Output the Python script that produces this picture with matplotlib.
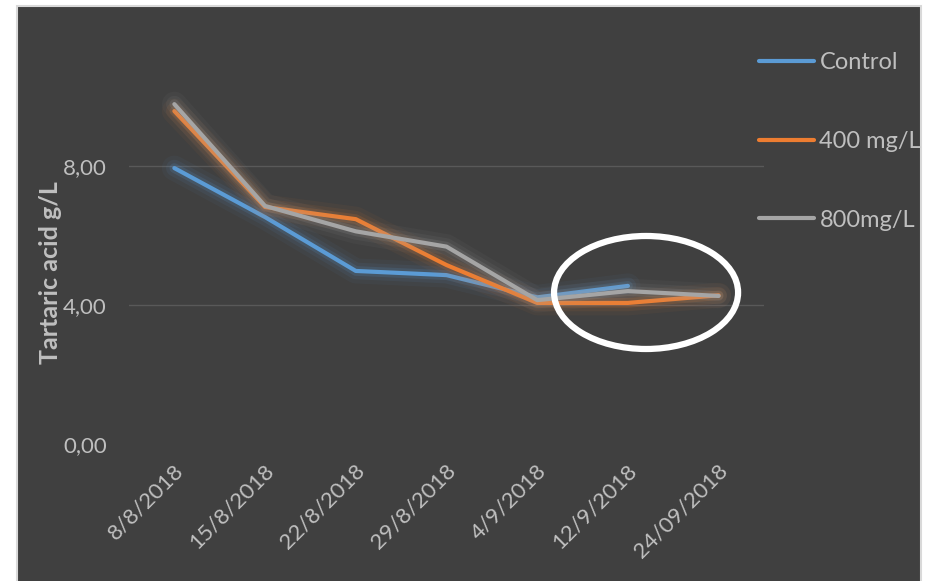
import matplotlib.pyplot as plt
import matplotlib.patheffects as pe
import matplotlib.transforms as mtransforms
from matplotlib.patches import Ellipse, Rectangle

dates = ["8/8/2018", "15/8/2018", "22/8/2018", "29/8/2018", "4/9/2018", "12/9/2018", "24/09/2018"]
control = [7.94, 6.53, 4.98, 4.86, 4.22, 4.55]  # no value for 24/09
mg400 = [9.58, 6.82, 6.47, 5.15, 4.06, 4.06, 4.28]
mg800 = [9.78, 6.85, 6.12, 5.68, 4.14, 4.40, 4.26]

bg = "#404040"
txt = "#bfbfbf"

plt.rcParams["font.family"] = ["Lato", "DejaVu Sans"]

fig = plt.figure(figsize=(9.28, 5.81), dpi=100, facecolor="white")
# dark chart area with a thin light border, white margins like the screenshot
fig.patches.append(Rectangle((17 / 928, -0.01), 904 / 928, 1 - 6 / 581 + 0.01,
                             transform=fig.transFigure, facecolor=bg,
                             edgecolor="#d9d9d9", linewidth=1.5, zorder=-10))

ax = fig.add_axes([129 / 928, 1 - 444 / 581, 635 / 928, 417 / 581])
ax.set_facecolor("none")
ax.set_zorder(5)

x = list(range(len(dates)))
series = [("Control", control, "#5b9bd5"),
          ("400 mg/L", mg400, "#ed7d31"),
          ("800mg/L", mg800, "#a5a5a5")]
for name, vals, col in series:
    # soft glow around each line, as in the original chart
    glow = [pe.Stroke(linewidth=18, foreground=col, alpha=0.05),
            pe.Stroke(linewidth=12, foreground=col, alpha=0.08),
            pe.Stroke(linewidth=7, foreground=col, alpha=0.15),
            pe.Normal()]
    ax.plot(x[:len(vals)], vals, color=col, linewidth=3, label=name,
            solid_capstyle="round", path_effects=glow)

ax.set_xlim(-0.5, 6.5)
ax.set_ylim(0, 12)
ax.set_yticks([0, 4, 8])
ax.set_yticklabels(["0,00", "4,00", "8,00"])
for yv in [4, 8]:
    ax.axhline(yv, color="#595959", linewidth=1, zorder=0)

ax.set_xticks(x)
ax.set_xticklabels(dates, rotation=45, ha="right", va="top", rotation_mode="anchor")
ax.tick_params(axis="x", length=0, pad=12, labelsize=16, labelcolor=txt)
ax.tick_params(axis="y", length=0, pad=16, labelsize=16, labelcolor=txt)
shift = mtransforms.ScaledTranslation(-1 / 100, 0, fig.dpi_scale_trans)
for lab in ax.get_xticklabels():
    lab.set_transform(lab.get_transform() + shift)
for s in ax.spines.values():
    s.set_visible(False)

ax.set_ylabel("Tartaric acid g/L", color=txt, fontsize=18, fontweight="bold")
ax.yaxis.set_label_coords(-0.105, 0.41)

# white ellipse highlighting the last sampling dates
ax.add_patch(Ellipse((5.2, 4.36), 184 / 90.7, 113 / 34.75, fill=False,
                     edgecolor="white", linewidth=4.5, clip_on=False, zorder=5))

leg = ax.legend(loc="upper left", bbox_to_anchor=(0.959, 0.991), frameon=False,
                fontsize=17, labelcolor=txt, handlelength=2.3, handletextpad=0.25,
                labelspacing=2.45)
for h in leg.get_lines():
    h.set_linewidth(3)
    h.set_path_effects([])

fig.savefig("out.png", dpi=100, facecolor="white")
